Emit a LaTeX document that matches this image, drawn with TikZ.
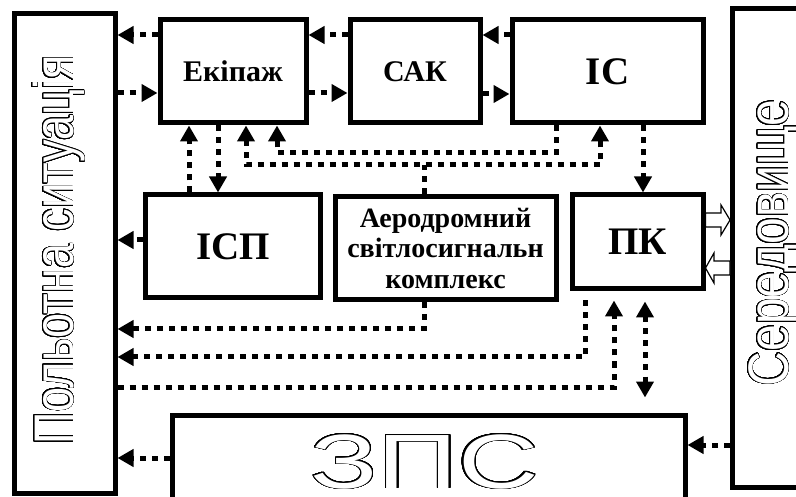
\documentclass[tikz,border=0pt]{standalone}
\usepackage{fontspec}
\setmainfont{Liberation Serif}
\newfontfamily\sansf{Liberation Sans}
\usepackage{graphicx}
\usepackage{contour}
\contournumber{48}
\usetikzlibrary{arrows.meta,calc}
\newcommand\labsmall{\fontsize{30}{34}\selectfont\bfseries}
\newcommand\labbig{\fontsize{39}{43}\selectfont\bfseries}
\newcommand\labaero{\fontsize{28}{30.5}\selectfont\bfseries}
\begin{document}
\begin{tikzpicture}[x=1pt,y=-1pt,
  box/.style={draw, line width=5pt, rectangle, inner sep=0pt},
  dotline/.style={line width=5pt, dash pattern=on 6pt off 6pt, line cap=butt},
  tip/.style={-{Triangle[length=16pt,width=17pt]}},
  bitip/.style={{Triangle[length=16pt,width=17pt]}-{Triangle[length=16pt,width=17pt]}},
  hollow/.style={draw, fill=white, line width=1.2pt, line join=miter}
]
\useasboundingbox (0,0) rectangle (796,497);
\clip (0,0) rectangle (796,497);

% boxes
\node[box, minimum width=101pt, minimum height=479pt] (pol) at (64.5,253.5) {};
\node[box, minimum width=146pt, minimum height=103pt, font=\labsmall] (ek) at (233,71.5) {Екіпаж};
\node[box, minimum width=130pt, minimum height=103pt, font=\labsmall] (sak) at (415,71.5) {САК};
\node[box, minimum width=191pt, minimum height=103pt, font=\labbig] (is) at (607.5,71.5) {ІС};
\node[box, minimum width=96pt, minimum height=478pt] (ser) at (780.5,248) {};
\node[box, minimum width=175pt, minimum height=103pt, font=\labbig] (isp) at (233,246.5) {ІСП};
\node[box, minimum width=221pt, minimum height=103pt, font=\labaero, align=center] (aero) at (445.5,248) {Аеродромний\\світлосигнальн\\комплекс};
\node[box, minimum width=131pt, minimum height=94pt, font=\labbig] (pk) at (637.5,242) {\raisebox{-10pt}{ПК}};
\node[box, minimum width=513pt, minimum height=115pt] (zps) at (428.5,472.5) {};

% outline texts
\node[rotate=90, anchor=base, inner sep=0pt] (poltext) at (73,250)
  {\scalebox{1}[1.24]{\sansf\fontsize{45}{50}\selectfont\contourlength{0.7pt}\color{white}\contour{black}{Польотна ситуація}}};
\node[rotate=90, anchor=base, inner sep=0pt] (sertext) at (788,243)
  {\scalebox{1}[1.19]{\sansf\fontsize{48}{52}\selectfont\contourlength{0.7pt}\color{white}\contour{black}{Середовище}}};
\node[anchor=base, inner sep=0pt] (zpstext) at (424.5,488)
  {\scalebox{1.45}[1]{\sansf\fontsize{77}{82}\selectfont\contourlength{0.9pt}\color{white}\contour{black}{ЗПС}}};

% top horizontal arrows
\draw[dotline, tip] (ek.west |- 0,35) -- (pol.east |- 0,35);
\draw[dotline, tip] (pol.east |- 0,93) -- (ek.west |- 0,93);
\draw[dotline, tip] (sak.west |- 0,35) -- (ek.east |- 0,35);
\draw[dotline, tip] (ek.east |- 0,93) -- (sak.west |- 0,93);
\draw[dotline, tip] (is.west |- 0,35) -- (sak.east |- 0,35);
\draw[dotline, tip] (sak.east |- 0,94) -- (is.west |- 0,94);

% vertical between Ekipazh and ISP
\draw[dotline, tip] (189,0 |- isp.north) -- (189,0 |- ek.south);
\draw[dotline, tip] (218,0 |- ek.south) -- (218,0 |- isp.north);

% IS -> Ekipazh
\draw[dotline, tip] (556,0 |- is.south) -- (556,153) -- (277,153) -- (277,0 |- ek.south);
% Aero -> Ekipazh and IS
\draw[dotline] (424,0 |- aero.north) -- (424,165);
\draw[dotline, bitip] (246,0 |- ek.south) -- (246,165) -- (600,165) -- (600,0 |- is.south);
% IS -> PK
\draw[dotline, tip] (643,0 |- is.south) -- (643,0 |- pk.north);

% ISP -> Pol
\draw[dotline, tip] (isp.west |- 0,240) -- (pol.east |- 0,240);
% Aero -> Pol
\draw[dotline, tip] (424,0 |- aero.south) -- (424,329) -- (pol.east |- 0,329);
% PK -> Pol
\draw[dotline, tip, shorten <=9pt] (585,0 |- pk.south) -- (585,357) -- (pol.east |- 0,357);
% Pol -> PK
\draw[dotline, tip, shorten >=9pt] (pol.east |- 0,387) -- (614,387) -- (614,0 |- pk.south);
% PK <-> ZPS
\draw[dotline, bitip, shorten <=10pt, shorten >=15pt] (645,0 |- pk.south) -- (645,0 |- zps.north);
% Ser -> ZPS
\draw[dotline, tip] (ser.west |- 0,445) -- (zps.east |- 0,445);
% ZPS -> Pol
\draw[dotline, tip] (zps.west |- 0,458) -- (pol.east |- 0,458);

% hollow arrows PK <-> Seredovyshche
\draw[hollow] (pk.east |- 0,213) -- (721,213) -- (721,205) -- (ser.west |- 0,220)
  -- (721,235) -- (721,227) -- (pk.east |- 0,227) -- cycle;
\draw[hollow] (ser.west |- 0,261) -- (714,261) -- (714,253) -- (pk.east |- 0,268)
  -- (714,283) -- (714,275) -- (ser.west |- 0,275) -- cycle;
\end{tikzpicture}
\end{document}
